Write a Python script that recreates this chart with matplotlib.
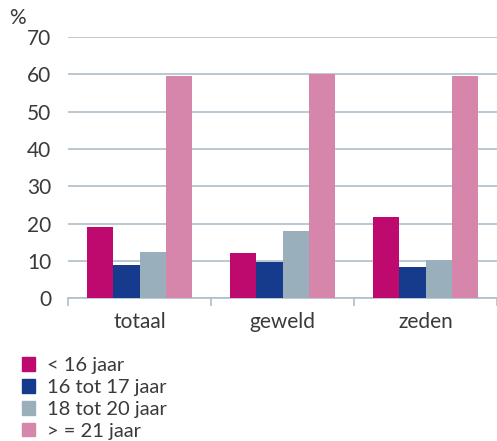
import numpy as np
import matplotlib
matplotlib.use("Agg")
import matplotlib.pyplot as plt
from matplotlib.patches import Patch

categories = ["totaal", "geweld", "zeden"]
series_names = ["< 16 jaar", "16 tot 17 jaar", "18 tot 20 jaar", "> = 21 jaar"]
under_16 = [19.0, 12.1, 21.7]
age_16_17 = [8.9, 9.7, 8.3]
age_18_20 = [12.3, 18.0, 10.2]
age_21_plus = [59.5, 60.0, 59.5]
yticks = [0, 10, 20, 30, 40, 50, 60, 70]

colors = ["#be0a6e", "#163a8c", "#9aafbc", "#d586aa"]
grid_color = "#aebfcb"
text_color = "#3a3a3a"

plt.rcParams['font.family'] = ['Lato', 'DejaVu Sans']

fig = plt.figure(figsize=(4.97, 4.41), dpi=100)
ax = fig.add_axes([0.137, 0.324, 0.863, 0.592])

values = [under_16, age_16_17, age_18_20, age_21_plus]
x = np.arange(len(categories))
width = 0.185
for i, vals in enumerate(values):
    ax.bar(x + (i - 1.5) * width, vals, width, color=colors[i], zorder=3)

ax.set_xlim(-0.5, 2.5)
ax.set_ylim(0, 70)
ax.set_yticks(yticks)
ax.set_yticklabels([str(t) for t in yticks], fontsize=15, color=text_color)
ax.yaxis.grid(True, color=grid_color, linewidth=1.2, zorder=0)
ax.tick_params(axis='y', length=0, pad=12)

ax.set_xticks(x)
ax.set_xticklabels(categories, fontsize=15, color=text_color)
ax.set_xticks([-0.5, 0.5, 1.5, 2.5], minor=True)
ax.tick_params(axis='x', which='major', length=0, pad=10)
ax.tick_params(axis='x', which='minor', length=6, color=grid_color, width=1.2)

for s in ['left', 'right', 'top']:
    ax.spines[s].set_visible(False)
ax.spines['bottom'].set_color(grid_color)
ax.spines['bottom'].set_linewidth(1.2)

fig.text(0.018, 0.96, "%", fontsize=15, color=text_color, va='center')

handles = [Patch(color=c) for c in colors]
fig.legend(handles, series_names, loc='upper left', bbox_to_anchor=(0.044, 0.19),
           frameon=False, fontsize=14.5, handlelength=0.65, handleheight=0.65,
           handletextpad=0.6, labelspacing=0.24, borderaxespad=0, borderpad=0,
           labelcolor=text_color)

fig.savefig("out.png", dpi=100)
